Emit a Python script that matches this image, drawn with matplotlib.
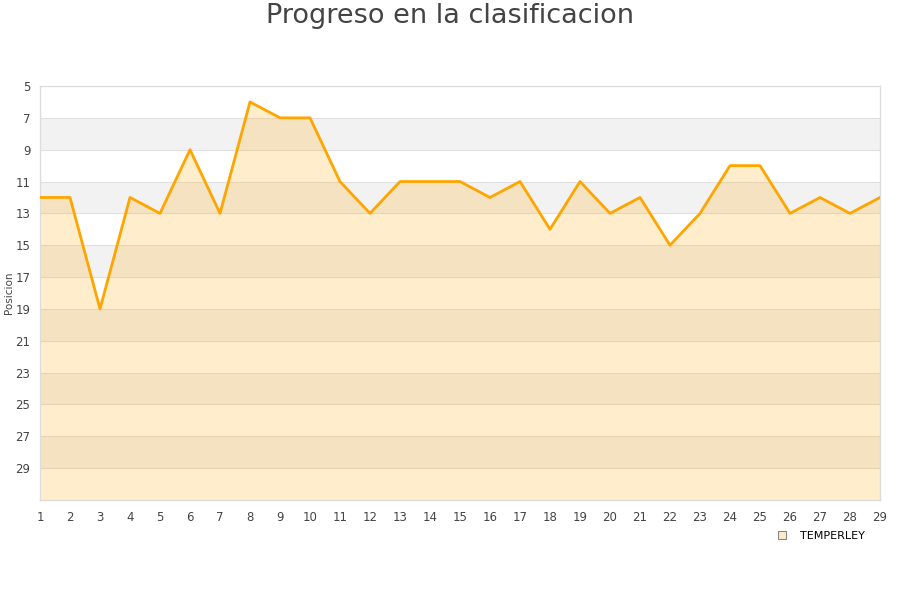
import matplotlib
matplotlib.use("Agg")
import matplotlib.pyplot as plt
import matplotlib.lines as mlines

jornadas = list(range(1, 30))
posiciones = [12, 12, 19, 12, 13, 9, 13, 6, 7, 7, 11, 13, 11, 11, 11, 12, 11, 14, 11, 13,
              12, 15, 13, 10, 10, 13, 12, 13, 12]
y_ticks = list(range(5, 30, 2))
equipo = "TEMPERLEY"

fig = plt.figure(figsize=(9, 6), dpi=100)
ax = fig.add_axes([40/900, 1-500/600, 840/900, 414/600])

ymin, ymax = 5, 31
# alternating bands
for lo in range(7, 31, 4):
    ax.axhspan(lo, lo+2, color="#f2f2f2", lw=0, zorder=0)
for y in range(7, 31, 2):
    ax.axhline(y, color="#e0e0e0", lw=0.8, zorder=1)

ax.fill_between(jornadas, posiciones, ymax, color="#ffa500", alpha=0.2, lw=0, zorder=2)
ax.plot(jornadas, posiciones, color="#ffa500", lw=2, zorder=3)

ax.set_xlim(1, 29)
ax.set_ylim(ymax, ymin)
ax.set_yticks(y_ticks)
ax.set_xticks(jornadas)
ax.tick_params(axis="x", length=0, labelsize=8.5, colors="#444444", pad=8)
ax.tick_params(axis="y", length=0, labelsize=8.5, colors="#444444", pad=7)
for s in ax.spines.values():
    s.set_color("#dddddd")
    s.set_linewidth(1)

fig.text(9/900, 1-293/600, "Posicion", rotation=90, ha="center", va="center",
         fontsize=7.5, color="#444444")

fig.text(0.5, 1-16/600, "Progreso en la clasificacion", ha="center", va="center",
         fontsize=19.5, color="#444444")

handle = mlines.Line2D([], [], marker="s", linestyle="none", markersize=6,
                       markerfacecolor="#ffebcc", markeredgecolor="#888888", markeredgewidth=0.8)
fig.legend([handle], [equipo], loc="center", bbox_to_anchor=(818/900, 1-536/600),
           frameon=False, fontsize=8, handletextpad=0.6, borderaxespad=0)

fig.savefig("out.png", dpi=100)
